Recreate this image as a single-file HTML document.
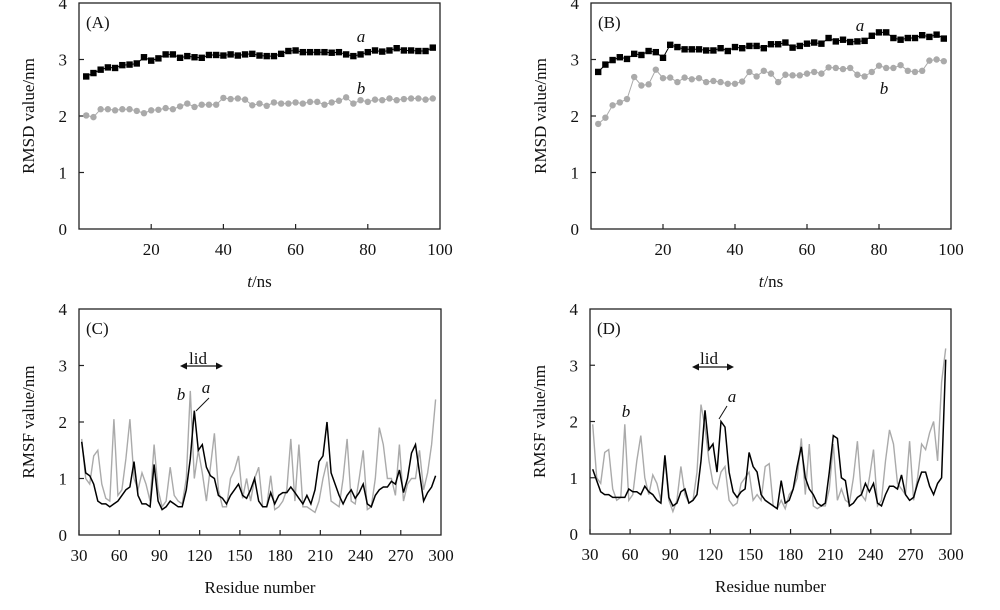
<!DOCTYPE html>
<html><head><meta charset="utf-8"><style>
body{margin:0;background:#fff;}
svg text{font-family:"Liberation Serif",serif;fill:#111;}
</style></head><body>
<svg id="chart" width="1000" height="605" viewBox="0 0 1000 605" xmlns="http://www.w3.org/2000/svg"></svg>
<script>
const timeNs=[2,4,6,8,10,12,14,16,18,20,22,24,26,28,30,32,34,36,38,40,42,44,46,48,50,52,54,56,58,60,62,64,66,68,70,72,74,76,78,80,82,84,86,88,90,92,94,96,98];
const rmsdA_a=[2.7,2.76,2.82,2.86,2.85,2.9,2.91,2.93,3.04,2.98,3.02,3.09,3.09,3.03,3.06,3.04,3.03,3.08,3.08,3.07,3.09,3.07,3.09,3.1,3.07,3.06,3.06,3.1,3.15,3.16,3.13,3.13,3.13,3.13,3.12,3.13,3.09,3.06,3.09,3.13,3.16,3.14,3.16,3.2,3.16,3.16,3.15,3.15,3.21];
const rmsdA_b=[2.01,1.98,2.12,2.12,2.1,2.12,2.12,2.09,2.05,2.1,2.11,2.14,2.12,2.17,2.22,2.16,2.2,2.2,2.2,2.32,2.3,2.31,2.29,2.19,2.22,2.18,2.24,2.22,2.22,2.24,2.22,2.25,2.25,2.2,2.24,2.27,2.33,2.22,2.28,2.25,2.29,2.28,2.31,2.28,2.3,2.31,2.31,2.29,2.31];
const rmsdB_a=[2.78,2.91,2.99,3.04,3.01,3.1,3.08,3.15,3.13,3.03,3.26,3.22,3.18,3.18,3.18,3.16,3.16,3.2,3.15,3.22,3.2,3.24,3.24,3.2,3.27,3.27,3.3,3.21,3.24,3.28,3.3,3.28,3.38,3.32,3.35,3.31,3.32,3.33,3.42,3.48,3.48,3.38,3.35,3.38,3.38,3.43,3.4,3.44,3.37];
const rmsdB_b=[1.86,1.97,2.19,2.24,2.3,2.69,2.54,2.56,2.82,2.67,2.68,2.6,2.68,2.65,2.67,2.6,2.62,2.6,2.57,2.57,2.61,2.78,2.7,2.8,2.75,2.6,2.73,2.72,2.72,2.75,2.78,2.75,2.86,2.85,2.83,2.85,2.73,2.7,2.78,2.89,2.85,2.85,2.9,2.8,2.78,2.8,2.98,3.0,2.97];
const residues=[32,35,38,41,44,47,50,53,56,59,62,65,68,71,74,77,80,83,86,89,92,95,98,101,104,107,110,113,116,119,122,125,128,131,134,137,140,143,146,149,152,155,158,161,164,167,170,173,176,179,182,185,188,191,194,197,200,203,206,209,212,215,218,221,224,227,230,233,236,239,242,245,248,251,254,257,260,263,266,269,272,275,278,281,284,287,290,293,296];
const rmsfC_a=[1.65,1.1,1.05,0.9,0.6,0.55,0.55,0.5,0.55,0.6,0.7,0.8,0.85,1.3,0.7,0.55,0.55,0.5,1.25,0.6,0.45,0.5,0.6,0.55,0.5,0.5,0.8,1.35,2.2,1.5,1.6,1.2,1.05,1.0,0.7,0.65,0.55,0.7,0.8,0.9,0.7,0.65,0.8,1.0,0.6,0.5,0.5,0.75,0.55,0.7,0.75,0.75,0.85,0.75,0.65,0.55,0.7,0.55,0.8,1.3,1.4,2.0,1.1,0.9,0.7,0.55,0.7,0.8,0.65,0.75,0.9,0.55,0.5,0.7,0.8,0.85,0.85,0.95,0.9,1.15,0.75,1.0,1.45,1.6,1.1,0.6,0.75,0.85,1.05];
const rmsfC_b=[1.7,1.0,0.9,1.4,1.5,0.9,0.65,0.6,2.05,0.7,0.8,1.35,2.05,1.0,0.8,1.1,0.9,0.6,1.6,0.8,0.5,0.6,1.2,0.7,0.6,0.55,1.0,2.55,1.0,1.5,1.1,0.6,1.2,1.8,0.8,0.5,0.5,1.0,1.15,1.4,0.65,1.0,0.6,1.0,1.2,0.5,0.5,1.05,0.45,0.5,0.6,0.8,1.7,0.6,1.6,0.5,0.5,0.45,0.4,0.6,1.0,1.3,0.6,0.55,0.5,1.0,1.7,0.6,0.55,1.0,1.5,0.45,0.5,1.0,1.9,1.6,1.0,1.0,0.7,1.6,0.6,0.9,1.0,1.0,1.5,0.8,1.1,1.6,2.4];
const rmsfD_a=[1.15,0.95,0.75,0.7,0.7,0.65,0.65,0.65,0.65,0.8,0.75,0.75,0.7,0.85,0.75,0.7,0.6,0.55,1.4,0.65,0.5,0.55,0.75,0.8,0.55,0.6,0.7,1.3,2.2,1.5,1.6,1.1,2.0,1.9,1.1,0.75,0.65,0.75,0.8,1.45,1.2,1.1,0.7,0.6,0.55,0.5,0.45,0.95,0.55,0.6,0.8,1.2,1.55,1.0,0.8,0.7,0.55,0.5,0.55,1.1,1.75,1.7,1.0,0.95,0.5,0.55,0.65,0.7,0.9,0.75,0.9,0.55,0.5,0.7,0.85,0.85,0.8,1.05,0.7,0.6,0.65,0.9,1.1,1.1,0.85,0.7,0.9,1.0,3.1];
const rmsfD_b=[1.95,1.0,0.9,1.45,1.5,0.8,0.6,0.65,1.95,0.6,0.7,1.3,1.75,1.0,0.7,1.05,0.9,0.6,1.35,0.6,0.4,0.6,1.2,0.7,0.55,0.6,1.1,2.3,1.9,1.3,0.9,0.8,1.1,1.2,0.6,0.5,0.55,0.9,1.0,1.1,0.6,0.7,0.6,1.2,1.25,0.5,0.45,0.6,0.45,0.7,0.8,1.0,1.7,0.7,1.6,0.5,0.45,0.5,0.5,0.8,1.6,0.6,0.8,0.6,0.55,1.0,1.65,0.7,0.6,1.0,1.5,0.5,0.6,1.3,1.85,1.6,0.9,0.8,0.7,1.65,0.6,1.0,1.6,1.5,1.8,2.0,1.3,2.7,3.3];
const rmsdTicks=[20,40,60,80,100];
const rmsfTicks=[30,60,90,120,150,180,210,240,270,300];
const yTicks=[0,1,2,3,4];

const NS="http://www.w3.org/2000/svg";
const svg=document.getElementById('chart');
function mk(tag,attrs,parent,text){const e=document.createElementNS(NS,tag);for(const k in attrs)e.setAttribute(k,attrs[k]);if(text!==undefined)e.textContent=text;(parent||svg).appendChild(e);return e;}

function panel(o){
  const g=mk('g',{});
  
  
  const sx=v=>o.L+(v-o.xmin)/(o.xmax-o.xmin)*(o.R-o.L);
  const sy=v=>o.B-v/4*(o.B-o.T);
  const fr=mk('rect',{x:o.L,y:o.T,width:o.R-o.L,height:o.B-o.T,fill:'none',stroke:'#222','stroke-width':1.3},g);
  
  
  yTicks.forEach(t=>{
    if(t>0&&t<4) mk('line',{x1:o.L,x2:o.L+5,y1:sy(t),y2:sy(t),stroke:'#222','stroke-width':1.2},g);
    const tl=mk('text',{x:o.L-12,y:sy(t)+6,'font-size':17,'text-anchor':'end'},g,String(t));
    
    
  });
  o.xt.forEach(t=>{
    if(sx(t)<o.R-1) mk('line',{x1:sx(t),x2:sx(t),y1:o.B,y2:o.B-5,stroke:'#222','stroke-width':1.2},g);
    const tl=mk('text',{x:sx(t),y:o.B+26,'font-size':17,'text-anchor':'middle'},g,String(t));
    
    
  });
  const yc=(o.T+o.B)/2;
  const yl=mk('text',{x:o.L-45,y:yc,'font-size':17,'text-anchor':'middle',transform:`rotate(-90 ${o.L-45} ${yc})`},g,o.ylab);
  
  
  const xl=mk('text',{x:(o.L+o.R)/2,y:o.B+58,'font-size':17,'text-anchor':'middle'},g);
  
  
  if(o.tlab){mk('tspan',{'font-style':'italic'},xl,'t');mk('tspan',{},xl,'/ns');}else xl.textContent=o.xlab;
  const pl=mk('text',{x:o.L+7,y:o.T+25,'font-size':17},g,o.label);
  
  
  o.series.forEach(s=>{
    const n=Math.min(s.x.length,s.y.length);
    let d='';for(let i=0;i<n;i++)d+=(i?'L':'M')+sx(s.x[i]).toFixed(1)+','+sy(s.y[i]).toFixed(1);
    const p=mk('path',{d:d,fill:'none',stroke:s.c,'stroke-width':s.w},g);
    
    
    if(s.marker){for(let i=0;i<n;i++){
      let m;
      if(s.marker==='sq') m=mk('rect',{x:sx(s.x[i])-3.2,y:sy(s.y[i])-3.2,width:6.4,height:6.4,fill:s.c},g);
      else m=mk('circle',{cx:sx(s.x[i]),cy:sy(s.y[i]),r:3.2,fill:s.c},g);
      
      
    }}
  });
  (o.notes||[]).forEach(n=>{
    const t=mk('text',{x:n[0],y:n[1],'font-size':17,'font-style':n[3]?'normal':'italic','text-anchor':'middle'},g,n[2]);
    
    
  });
  return {g,sx,sy};
}
const A=panel({name:'panel-a-rmsd',L:79,R:440,T:3,B:229,xmin:0,xmax:100,xt:rmsdTicks,ylab:'RMSD value/nm',tlab:true,label:'(A)',
  series:[{name:'series-b',x:timeNs,y:rmsdA_b,c:'#aaa',w:1,marker:'ci'},{name:'series-a',x:timeNs,y:rmsdA_a,c:'#000',w:1,marker:'sq'}],
  notes:[[361,42,'a'],[361,94,'b']]});
const B=panel({name:'panel-b-rmsd',L:591,R:951,T:3,B:229,xmin:0,xmax:100,xt:rmsdTicks,ylab:'RMSD value/nm',tlab:true,label:'(B)',
  series:[{name:'series-b',x:timeNs,y:rmsdB_b,c:'#aaa',w:1,marker:'ci'},{name:'series-a',x:timeNs,y:rmsdB_a,c:'#000',w:1,marker:'sq'}],
  notes:[[860,31,'a'],[884,94,'b']]});
const C=panel({name:'panel-c-rmsf',L:79,R:441,T:309,B:535,xmin:30,xmax:300,xt:rmsfTicks,ylab:'RMSF value/nm',xlab:'Residue number',label:'(C)',
  series:[{name:'series-b',x:residues,y:rmsfC_b,c:'#aaa',w:1.4},{name:'series-a',x:residues,y:rmsfC_a,c:'#000',w:1.5}],
  notes:[[198,364,'lid',1],[181,400,'b'],[206,393,'a']]});
const D=panel({name:'panel-d-rmsf',L:590,R:951,T:309,B:534,xmin:30,xmax:300,xt:rmsfTicks,ylab:'RMSF value/nm',xlab:'Residue number',label:'(D)',
  series:[{name:'series-b',x:residues,y:rmsfD_b,c:'#aaa',w:1.4},{name:'series-a',x:residues,y:rmsfD_a,c:'#000',w:1.5}],
  notes:[[709,364,'lid',1],[626,417,'b'],[732,402,'a']]});
function arrow(x1,x2,y,name){
  const g=mk('g',{});
  
  
  mk('line',{x1:x1+3,x2:x2-3,y1:y,y2:y,stroke:'#111','stroke-width':1.2},g);
  mk('path',{d:`M${x1},${y}L${x1+7},${y-3.5}L${x1+7},${y+3.5}Z`,fill:'#111'},g);
  mk('path',{d:`M${x2},${y}L${x2-7},${y-3.5}L${x2-7},${y+3.5}Z`,fill:'#111'},g);
}
arrow(180,223,366,'lid-range-arrow-c');
arrow(692,734,367,'lid-range-arrow-d');
const l1=mk('line',{x1:209,y1:398,x2:196,y2:411,stroke:'#111','stroke-width':1});


const l2=mk('line',{x1:727,y1:406,x2:719,y2:419,stroke:'#111','stroke-width':1});


</script>
</body></html>
